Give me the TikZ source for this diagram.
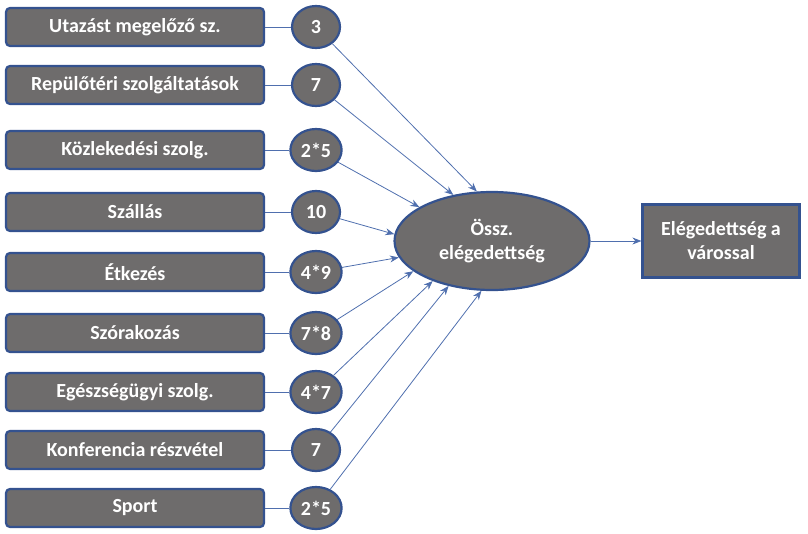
\documentclass[tikz,border=0pt]{standalone}
\usepackage{fontspec}
\setmainfont{Carlito}
\usetikzlibrary{shapes.geometric,arrows.meta}
\definecolor{fillg}{HTML}{6E6C6C}
\definecolor{bord}{HTML}{34528F}
\definecolor{lnk}{HTML}{4F6FAE}
\begin{document}
\begin{tikzpicture}[x=1pt,y=-1pt,
 box/.style={draw=bord,line width=2.2pt,fill=fillg,rounded corners=4pt,minimum width=258pt,minimum height=38pt,text=white,font=\fontsize{20}{24}\selectfont\bfseries},
 sm/.style={ellipse,draw=bord,line width=2.2pt,fill=fillg,minimum width=48pt,minimum height=42pt,inner ysep=0pt,inner xsep=3pt,text=white,font=\fontsize{20}{24}\selectfont\bfseries},
 con/.style={draw=lnk,line width=0.8pt},
 arr/.style={con,-{Stealth[length=9pt,width=7pt]}}]
\useasboundingbox (0,0) rectangle (808,533);
\node[ellipse,draw=bord,line width=2.2pt,fill=fillg,minimum width=195pt,minimum height=98pt,text=white,align=center,font=\fontsize{20}{24}\selectfont\bfseries] (c) at (492,241) {Össz.\\elégedettség};
\node[draw=bord,line width=2.2pt,fill=fillg,minimum width=157pt,minimum height=73pt,text=white,align=center,font=\fontsize{20}{24}\selectfont\bfseries] (r) at (721,241) {Elégedettség a\\várossal};
\draw[arr] (c) -- (r);
\foreach \i/\y/\t/\v/\a in {1/27/Utazást megelőző sz./3/107, 2/85/Repülőtéri szolgáltatások/7/130, 3/150/Közlekedési szolg./2*5/155, 4/212/Szállás/10/176, 5/272/Étkezés/4*9/190, 6/333/Szórakozás/7*8/201, 7/392/Egészségügyi szolg./4*7/214, 8/450/Konferencia részvétel/7/226, 9/508/Sport/2*5/258}{
 \node[box] (b\i) at (135,\y) {\t};
 \node[sm] (s\i) at (316,\y) {\v};
 \draw[con] (b\i) -- (s\i);
 \draw[arr] (s\i) -- (c.\a);
}
\end{tikzpicture}
\end{document}
